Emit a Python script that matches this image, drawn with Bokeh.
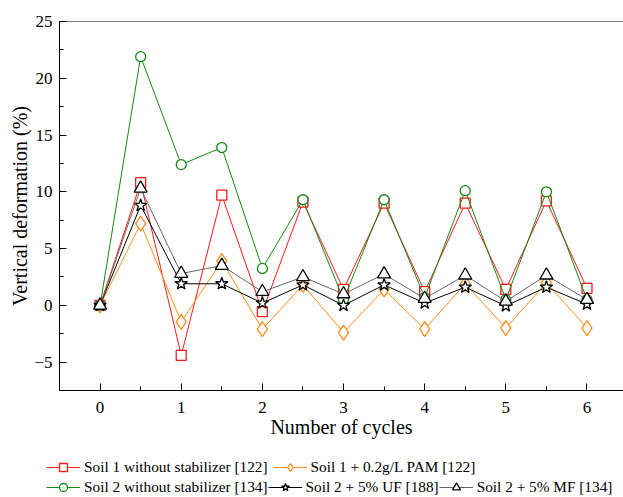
from bokeh.plotting import figure
from bokeh.layouts import column
from bokeh.models import (Range1d, SingleIntervalTicker, Span, Legend, LegendItem,
                          CustomJSTickFormatter)
from bokeh.embed import file_html
from bokeh.resources import INLINE

cycles = [0, 0.5, 1, 1.5, 2, 2.5, 3, 3.5, 4, 4.5, 5, 5.5, 6]
soil1_none = [0, 10.8, -4.4, 9.7, -0.55, 9.1, 1.4, 9.0, 1.2, 9.0, 1.4, 9.2, 1.5]
soil1_pam = [0, 7.2, -1.45, 3.9, -2.1, 1.8, -2.4, 1.4, -2.1, 1.9, -2.0, 2.0, -2.0]
soil2_none = [0, 21.9, 12.4, 13.9, 3.25, 9.3, 0.5, 9.3, 0.7, 10.1, 0.5, 10.0, 0.5]
soil2_uf = [0, 8.8, 1.9, 1.9, 0.2, 1.8, 0.0, 1.8, 0.2, 1.6, -0.05, 1.6, 0.1]
soil2_mf = [0, 10.3, 2.8, 3.5, 1.2, 2.5, 1.0, 2.75, 0.6, 2.65, 0.35, 2.65, 0.5]

labels = ["Soil 1 without stabilizer [122]", "Soil 1 + 0.2g/L PAM [122]",
          "Soil 2 without stabilizer [134]", "Soil 2 + 5% UF [188]",
          "Soil 2 + 5% MF [134]"]

FONT = "Liberation Serif"

p = figure(width=623, height=450, output_backend="svg", toolbar_location=None,
           x_range=Range1d(-0.5, 6.45), y_range=Range1d(-7.5, 25),
           min_border_left=59, min_border_right=0, min_border_top=21,
           min_border_bottom=60)
p.outline_line_color = None
p.xgrid.visible = False
p.ygrid.visible = False
p.background_fill_color = "white"
p.border_fill_color = "white"

p.add_layout(Span(location=25, dimension="width", line_color="black", line_width=1))

# legend strip below the chart
lf = figure(width=623, height=47, output_backend="svg", toolbar_location=None,
            x_range=Range1d(0, 1), y_range=Range1d(0, 1),
            min_border_left=0, min_border_right=0, min_border_top=0,
            min_border_bottom=0, x_axis_type=None, y_axis_type=None)
lf.outline_line_color = None
lf.xgrid.visible = False
lf.ygrid.visible = False
lf.background_fill_color = "white"
lf.border_fill_color = "white"
aligned = True
try:
    lf.frame_align = False
    p.frame_align = False
    aligned = False
except Exception:
    aligned = True

series = [
    (soil1_none, "#ff1a1a", "square", 10, "#ff1a1a"),
    (soil1_pam, "#ff8c1a", "diamond", 15, "#ff8c1a"),
    (soil2_none, "#138a13", "circle", 10, "#138a13"),
    (soil2_uf, "#000000", "star", 13, "#000000"),
    (soil2_mf, "#666666", "triangle", 13, "#000000"),
]

items1 = []
items2 = []
off = [c + 100 for c in cycles]
for i, (vals, col, mk, sz, mcol) in enumerate(series):
    p.line(cycles, vals, line_color=col, line_width=1)
    p.scatter(cycles, vals, marker=mk, size=sz, line_color=mcol,
              fill_color="white", line_width=1.3)
    lr = lf.line(off, vals, line_color=col, line_width=1)
    sr = lf.scatter(off, vals, marker=mk, size=sz, line_color=mcol,
                    fill_color="white", line_width=1.3)
    it = LegendItem(label=labels[i], renderers=[lr, sr])
    if i < 2:
        items1.append(it)
    else:
        items2.append(it)

x0 = -13 if aligned else 46
for items, vy, sp in ((items1, 20, 5), (items2, 0, 0)):
    lg = Legend(items=items, orientation="horizontal", location=(x0, vy),
                label_text_font=FONT, label_text_font_size="15.3px",
                label_text_color="black", glyph_width=34, glyph_height=20,
                label_height=20, label_standoff=4, spacing=sp, padding=0,
                margin=0, border_line_color=None, background_fill_alpha=0)
    lf.add_layout(lg, "center")

for ax in (p.xaxis[0], p.yaxis[0]):
    ax.axis_line_color = "black"
    ax.major_tick_line_color = "black"
    ax.minor_tick_line_color = "black"
    ax.major_tick_in = 7
    ax.major_tick_out = 0
    ax.minor_tick_in = 4
    ax.minor_tick_out = 0
    ax.major_label_text_font = FONT
    ax.major_label_text_font_size = "17px"
    ax.major_label_text_color = "black"
    ax.axis_label_text_font = FONT
    ax.axis_label_text_font_size = "20px"
    ax.axis_label_text_font_style = "normal"
    ax.axis_label_text_color = "black"

p.xaxis.ticker = SingleIntervalTicker(interval=1, num_minor_ticks=2)
p.yaxis.ticker = SingleIntervalTicker(interval=5, num_minor_ticks=2)
p.yaxis.formatter = CustomJSTickFormatter(
    code="return tick < 0 ? '\u2212' + Math.abs(tick) : String(tick);")
p.xaxis.axis_label = "Number of cycles"
p.yaxis.axis_label = "Vertical deformation (%)"
p.xaxis.major_label_standoff = 11
p.yaxis.major_label_standoff = 7
p.xaxis.axis_label_standoff = 0
p.yaxis.axis_label_standoff = 0

layout = column(p, lf, spacing=0)
open("out.html", "w").write(file_html(layout, INLINE))
